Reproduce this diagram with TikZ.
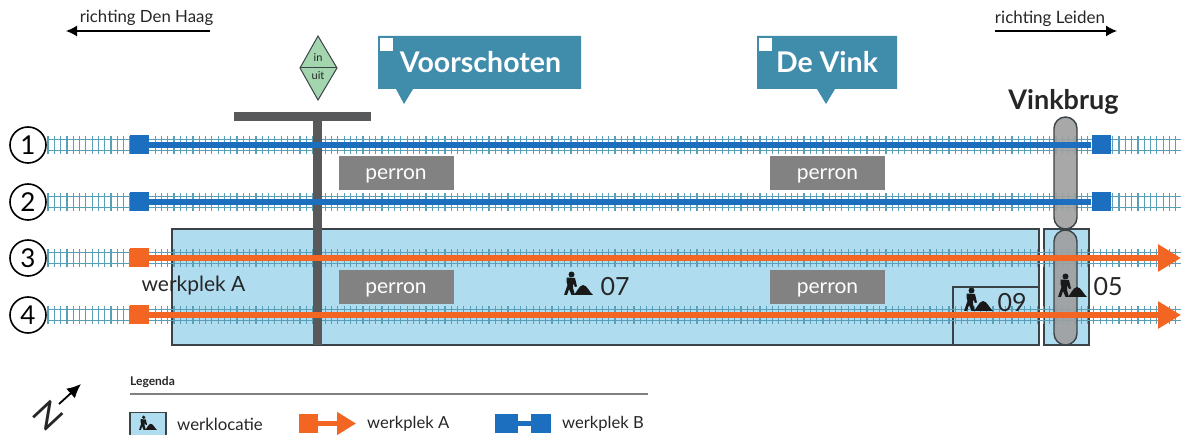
\documentclass[tikz,border=0pt]{standalone}
\usepackage{fontspec}
\setmainfont{Lato}
\usetikzlibrary{arrows.meta}
\newcommand{\fs}[1]{\fontsize{#1}{#1}\selectfont}
\definecolor{spoorkleur}{HTML}{5A9FB8}
\definecolor{werkkleur}{HTML}{B0DCF0}
\definecolor{oranje}{HTML}{F26522}
\definecolor{blauw}{HTML}{1C6EBE}
\definecolor{kader}{HTML}{3A4347}
\definecolor{paal}{HTML}{58595B}
\definecolor{ballon}{HTML}{3F8CAB}
\definecolor{groen}{HTML}{A3D5AF}
\tikzset{
  nummer/.style={draw, circle, line width=1.6, minimum size=36, inner sep=0, font=\fs{26}},
  vak/.style={draw=kader, line width=1.3, fill=werkkleur},
  perron/.style={fill=gray!98, text=white, minimum width=115, minimum height=34, inner sep=0, text height=15, text depth=2.4, font=\fs{21}},
  blok/.style={minimum width=19, minimum height=19, inner sep=0},
  label/.style={inner sep=0, text=black!85},
  rail/.style={spoorkleur, line width=1.1},
  biels/.style={spoorkleur, line width=1.2},
  lijnA/.style={oranje, line width=6.5},
  lijnB/.style={blauw, line width=6},
  richting/.style={line width=1.3, -{Latex[length=11,width=11]}},
  brug/.style={draw=kader, line width=1.4, fill=gray!75, fill opacity=.9, rounded corners=11.5},
  werker/.pic={
    \fill[black!90] (7.5,-20.5) circle (3);
    \fill[black!90] (2.5,-17.5) -- (11,-17) -- (13,-8.5) -- (11,-8) -- (9,-12) -- (9,-7) -- (11,0) -- (7.5,0)
      -- (5,-6) -- (3,0) -- (0,0) -- (3.5,-10) -- (2.5,-13) -- cycle;
    \fill[black!90] (9.5,0) .. controls (12,-1) and (15,-10) .. (19,-10) .. controls (23,-10) and (26,-2) .. (29,0) -- cycle;
  },
}

\begin{document}
\begin{tikzpicture}[x=1pt, y=-1pt]
  \useasboundingbox (0,0) rectangle (1181,435);

  % werkvakken
  \path[vak] (172,229) rectangle (1039,345);
  \path[vak] (953,287) rectangle (1039,345);
  \path[vak] (1044,229) rectangle (1089,345);

  % sporen
  \foreach \y in {145,202,258,315} {
    \draw[rail] (48,\y-5.5) -- (1181,\y-5.5) (48,\y+5.5) -- (1181,\y+5.5);
    \foreach \x in {48,54.3,...,1180} \draw[biels] (\x,\y-9) -- (\x,\y+9);
  }

  % loopbrug en perrons
  \fill[paal] (234,112) rectangle (371,121);
  \fill[paal] (313,121) rectangle (322,345);
  \node[perron] (p1) at (396,173) {perron};
  \node[perron] (p2) at (827.5,173) {perron};
  \node[perron] (p3) at (396,287) {perron};
  \node[perron] (p4) at (827.5,287) {perron};

  % Vinkbrug
  \path[brug] (1054,117) rectangle (1077,229);
  \path[brug] (1054,230) rectangle (1077,345);
  \node[label, font=\fs{27}\bfseries] (brug) at (1063.5,102) {Vinkbrug};

  % werkplekken
  \node[nummer] (n1) at (28,145) {1};
  \node[nummer] (n2) at (28,202) {2};
  \node[nummer] (n3) at (28,258) {3};
  \node[nummer] (n4) at (28,315) {4};
  \node[blok, fill=blauw] (b1) at (139.5,145) {};
  \node[blok, fill=blauw] (b2) at (139.5,202) {};
  \node[blok, fill=blauw] (c1) at (1101,145) {};
  \node[blok, fill=blauw] (c2) at (1101,202) {};
  \node[blok, fill=oranje] (a3) at (139.5,258) {};
  \node[blok, fill=oranje] (a4) at (139.5,315) {};
  \coordinate (e3) at (1181,258);
  \coordinate (e4) at (1181,315);
  \draw[lijnB] (b1) -- (c1);
  \draw[lijnB] (b2) -- (c2);
  \draw[lijnA, -{Triangle[length=23,width=26]}] (a3) -- (e3);
  \draw[lijnA, -{Triangle[length=23,width=26]}] (a4) -- (e4);

  % teksten op de werkvakken
  \node[label, font=\fs{21}] (wa) at (193.5,286) {werkplek A};
  \pic at (564,295) {werker};
  \node[label, font=\fs{25}] (w07) at (615,287) {07};
  \pic at (964,311) {werker};
  \node[label, font=\fs{25}] (w09) at (1012,303) {09};
  \pic at (1058,297) {werker};
  \node[label, font=\fs{25}] (w05) at (1108,287) {05};

  % in/uit
  \path[fill=groen, draw=kader, line width=1] (318,36) -- (337,68) -- (318,100) -- (300,68) -- cycle;
  \draw[kader, line width=1] (300,68) -- (337,68);
  \node[label, font=\fs{11}] (in) at (318,57) {in};
  \node[label, font=\fs{11}] (uit) at (318,76) {uit};

  % stations
  \fill[ballon] (378,36) rectangle (581,89) (396,89) -- (413,89) -- (404,104) -- cycle;
  \fill[white] (380,38) rectangle (393,51);
  \node[label, text=white, font=\fs{28.5}\bfseries] (vs) at (480.5,62) {Voorschoten};
  \fill[ballon] (757,36) rectangle (897,89) (817,89) -- (835,89) -- (826,104) -- cycle;
  \fill[white] (759,38) rectangle (772,51);
  \node[label, text=white, font=\fs{28.5}\bfseries] (dv) at (827,62) {De Vink};

  % richtingen
  \node[label, font=\fs{16.8}] (dh) at (146.5,18) {richting Den Haag};
  \node[label, font=\fs{17}] (le) at (1050,19) {richting Leiden};
  \coordinate (dh1) at (210,31);
  \coordinate (dh2) at (66,31);
  \coordinate (le1) at (995,31);
  \coordinate (le2) at (1117,31);
  \draw[richting] (dh1) -- (dh2);
  \draw[richting] (le1) -- (le2);

  % noordpijl
  \node[label, rotate=-47, font=\fs{34}] (noord) at (48,416) {N};
  \coordinate (np1) at (59,404);
  \coordinate (np2) at (81,384);
  \draw[line width=1.8, -{Latex[length=14,width=13]}] (np1) -- (np2);

  % legenda
  \node[label, anchor=west, font=\fs{12}\bfseries] (lg) at (130,382) {Legenda};
  \coordinate (lg1) at (130,394);
  \coordinate (lg2) at (648,394);
  \draw[gray, line width=1.2] (lg1) -- (lg2);
  \path[vak, line width=1.5] (130,412.5) rectangle (166,440);
  \pic[scale=.62] at (139,430) {werker};
  \node[label, anchor=west, font=\fs{16.8}] (l1) at (177,424) {werklocatie};
  \node[blok, fill=oranje] (la) at (308.5,423.5) {};
  \coordinate (la2) at (356,423.5);
  \draw[lijnA, line width=4.5, -{Triangle[length=19,width=22]}] (la) -- (la2);
  \node[label, anchor=west, font=\fs{16.6}] (l2) at (367,424) {werkplek A};
  \node[blok, fill=blauw, minimum width=23] (lb1) at (506,423.5) {};
  \node[blok, fill=blauw, minimum width=20] (lb2) at (541,423.5) {};
  \draw[lijnB, line width=4.5] (lb1) -- (lb2);
  \node[label, anchor=west, font=\fs{16.6}] (l3) at (562,424) {werkplek B};
\end{tikzpicture}
\end{document}
